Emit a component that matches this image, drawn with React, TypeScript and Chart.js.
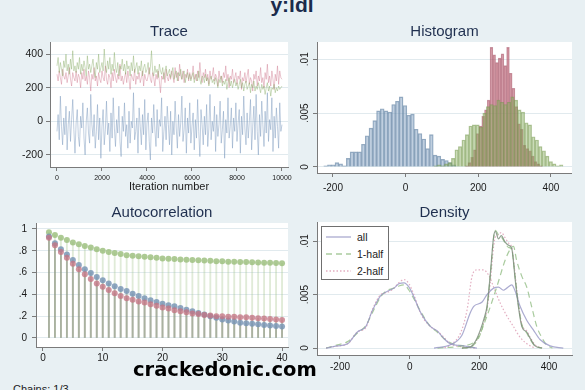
import React, { useEffect, useRef } from 'react';
import { Chart, registerables } from 'chart.js';
Chart.register(...registerables);

const FONT = '"Liberation Sans", Arial, Helvetica, sans-serif';
const PAGE_BG = 'rgb(232,240,243)';
const GRID = '#e1eaee';
const AXIS = '#7a7a7a';
const TICKC = '#1a1a1a';
const TITLEC = '#1f2f4f';

// ---------------- Trace (one value every 50 iterations) ----------------
const traceStep = 50;
const traceBlue = [
  -60, 40, -110, 150, -30, -140, 20, -80, 90, -170, -20, 60, -120, 10, 130, -50, -190, -10, 70, -90,
  -150, 30, -40, 110, -100, -200, 0, 80, -70, -130, 160, -20, -90, 40, -160, -60, 100, -110, 20, -220,
  -30, 70, -140, -50, 120, -80, -10, -180, 50, -100, 140, -40, -150, 10, -70, 90, -120, -210, 30, -60,
  110, -90, -20, -160, 60, -130, 0, -40, 170, -110, -60, 20, -190, 80, -30, -140, 40, -80, 130, -170,
  -10, 50, -120, -230, 20, -70, 100, -50, -150, 70, -100, 10, -30, 140, -180, -60, 30, -110, 90, -20,
  -140, 60, -200, 0, -80, 120, -40, -160, 40, -90, -10, 150, -120, -50, 80, -190, 20, -70, 110, -130,
  -30, 50, -170, 10, -100, 130, -60, -210, 70, -20, -140, 30, -80, 100, -150, -40, 160, -110, 0, -60,
  90, -180, 40, -90, -20, 120, -130, -50, 60, -220, 10, -70, 140, -100, -30, 80, -160, 20, -60, 110,
  -120, -10, 70, -190, 30, -80, 150, -40, -140, 50, -100, 0, 130, -170, -30, 90, -110, 160, -60, -200,
  40, -90, 120, -20, -150, 60, -70, 170, -120, 10, -50, 140, -180, 30, -100, 80, -30, -160, 110, -60,
  -20,
];
const traceRed = [
  280, 240, 300, 260, 220, 310, 270, 250, 290, 230, 270, 320, 250, 210, 290, 260, 240, 300, 230, 280,
  260, 200, 290, 250, 310, 240, 270, 220, 300, 260, 180, 280, 250, 320, 240, 270, 210, 290, 250, 230,
  300, 260, 240, 330, 250, 220, 280, 260, 200, 290, 240, 310, 260, 230, 280, 250, 340, 240, 270, 220,
  260, 290, 230, 300, 250, 190, 280, 260, 240, 310, 220, 270, 250, 290, 230, 260, 300, 210, 280, 250,
  240, 270, 320, 250, 230, 290, 260, 210, 280, 250, 300, 240, 170, 270, 250, 290, 230, 310, 260, 240,
  280, 250, 300, 270, 230, 320, 260, 290, 240, 340, 270, 250, 300, 230, 280, 260, 310, 240, 290, 250,
  270, 330, 250, 280, 240, 300, 260, 350, 270, 230, 290, 260, 310, 240, 280, 220, 300, 250, 270, 320,
  240, 280, 260, 210, 300, 250, 270, 230, 290, 260, 330, 240, 280, 200, 270, 250, 310, 230, 260, 290,
  220, 270, 250, 300, 190, 260, 240, 290, 230, 270, 310, 220, 260, 240, 180, 280, 250, 300, 210, 270,
  240, 320, 230, 260, 200, 290, 250, 340, 230, 270, 210, 300, 250, 190, 280, 240, 330, 220, 300, 260,
  250,
];
const traceGreen = [
  330, 380, 290, 350, 310, 270, 360, 320, 400, 300, 340, 280, 370, 310, 420, 300, 330, 290, 350, 310,
  380, 280, 340, 300, 360, 320, 270, 390, 310, 340, 290, 330, 370, 300, 260, 350, 310, 400, 290, 320,
  350, 300, 430, 330, 290, 360, 310, 380, 280, 340, 300, 410, 320, 290, 350, 270, 330, 310, 370, 300,
  340, 280, 360, 310, 330, 270, 350, 300, 390, 290, 320, 350, 280, 330, 300, 360, 270, 320, 340, 290,
  310, 350, 280, 320, 420, 300, 270, 330, 290, 310, 260, 340, 300, 280, 320, 250, 300, 330, 270, 290,
  310, 260, 290, 320, 250, 280, 300, 240, 290, 270, 310, 250, 280, 300, 230, 270, 290, 250, 280, 240,
  270, 290, 230, 260, 280, 240, 300, 250, 220, 270, 260, 230, 280, 240, 260, 210, 250, 270, 230, 250,
  220, 260, 240, 200, 250, 230, 270, 210, 240, 220, 250, 190, 230, 260, 210, 240, 200, 230, 250, 210,
  230, 190, 220, 250, 200, 230, 180, 220, 240, 190, 210, 230, 170, 220, 200, 240, 180, 210, 190, 230,
  200, 170, 220, 190, 210, 160, 200, 230, 180, 210, 150, 200, 190, 220, 170, 200, 180, 210, 190, 200,
  210,
];
const traceXTicks = [0, 2000, 4000, 6000, 8000, 10000];
const traceYTicks = [-200, 0, 200, 400];

// ---------------- Histogram ----------------
const blueBinWidth = 10.4;
const blueBins = [-220.4, -210, -199.6, -189.2, -178.8, -168.4, -158, -147.6, -137.2, -126.8, -116.4, -106, -95.6, -85.2, -74.8, -64.4, -54, -43.6, -33.2, -22.8, -12.4, -2, 8.4, 18.8, 29.2, 39.6, 50, 60.4, 70.8, 81.2, 91.6, 102, 112.4, 122.8, 133.2];
const blueDens = [0.0001, 0.0002, 0.0002, 0.0004, 0.0003, 0.0001, 0.0008, 0.0014, 0.0014, 0.0014, 0.0021, 0.0029, 0.0036, 0.0043, 0.0052, 0.0054, 0.0052, 0.0051, 0.0058, 0.0061, 0.0065, 0.0057, 0.0048, 0.0049, 0.0035, 0.0031, 0.0026, 0.0017, 0.003, 0.0011, 0.001, 0.0007, 0.0006, 0.0004, 0.0002];
const redBinWidth = 7.6;
const redBins = [167.8, 175.4, 183, 190.6, 198.2, 205.8, 213.4, 221, 228.6, 236.2, 243.8, 251.4, 259, 266.6, 274.2, 281.8, 289.4, 297, 304.6, 312.2, 319.8, 327.4, 335, 342.6, 350.2, 357.8, 365.4, 373];
const redDens = [0.0001, 0.0004, 0.0009, 0.0016, 0.0031, 0.0038, 0.0047, 0.0053, 0.0062, 0.0111, 0.0104, 0.0097, 0.0101, 0.0105, 0.0094, 0.0111, 0.0087, 0.0073, 0.0056, 0.004, 0.0035, 0.002, 0.0017, 0.0015, 0.001, 0.0005, 0.0003, 0.0001];
const greenBinWidth = 9.6;
const greenBins = [82.8, 92.4, 102, 111.6, 121.2, 130.8, 140.4, 150, 159.6, 169.2, 178.8, 188.4, 198, 207.6, 217.2, 226.8, 236.4, 246, 255.6, 265.2, 274.8, 284.4, 294, 303.6, 313.2, 322.8, 332.4, 342, 351.6, 361.2, 370.8, 380.4, 390, 399.6, 409.2, 418.8, 428.4];
const greenDens = [0.0001, 0.0002, 0.0001, 0.0003, 0.0004, 0.0008, 0.0016, 0.0019, 0.0025, 0.003, 0.0038, 0.0039, 0.0039, 0.0037, 0.005, 0.0056, 0.0058, 0.0057, 0.0062, 0.006, 0.0058, 0.006, 0.0065, 0.0062, 0.0053, 0.0051, 0.0041, 0.0039, 0.0028, 0.0025, 0.0019, 0.0015, 0.001, 0.0005, 0.0003, 0.0001, 0.0002];
const histXTicks = [-200, 0, 200, 400];
const densYTicks = [0, 0.005, 0.01];

// ---------------- Autocorrelation ----------------
const lags = [1, 2, 3, 4, 5, 6, 7, 8, 9, 10, 11, 12, 13, 14, 15, 16, 17, 18, 19, 20, 21, 22, 23, 24, 25, 26, 27, 28, 29, 30, 31, 32, 33, 34, 35, 36, 37, 38, 39, 40];
const acfGreen = [0.97, 0.945, 0.92, 0.9, 0.875, 0.86, 0.845, 0.83, 0.815, 0.8, 0.79, 0.78, 0.77, 0.76, 0.755, 0.75, 0.745, 0.74, 0.735, 0.73, 0.728, 0.725, 0.72, 0.718, 0.715, 0.712, 0.71, 0.708, 0.705, 0.703, 0.7, 0.7, 0.698, 0.697, 0.695, 0.693, 0.69, 0.69, 0.687, 0.685];
const acfBlue = [0.93, 0.87, 0.815, 0.765, 0.715, 0.67, 0.63, 0.595, 0.56, 0.53, 0.5, 0.475, 0.45, 0.43, 0.405, 0.385, 0.365, 0.345, 0.33, 0.315, 0.3, 0.29, 0.275, 0.26, 0.245, 0.23, 0.215, 0.2, 0.185, 0.17, 0.16, 0.15, 0.14, 0.135, 0.13, 0.125, 0.12, 0.115, 0.11, 0.105];
const acfRed = [0.92, 0.85, 0.79, 0.735, 0.68, 0.63, 0.585, 0.54, 0.5, 0.47, 0.44, 0.41, 0.385, 0.365, 0.35, 0.335, 0.325, 0.31, 0.295, 0.28, 0.27, 0.255, 0.245, 0.235, 0.225, 0.22, 0.21, 0.205, 0.2, 0.2, 0.195, 0.195, 0.19, 0.19, 0.185, 0.18, 0.178, 0.175, 0.17, 0.165];
const acfXTicks = [0, 10, 20, 30, 40];
const acfYTicks = [0, 0.2, 0.4, 0.6, 0.8, 1];

// ---------------- Density ----------------
const blueCurveX = [-240, -207, -178, -150, -126, -107, -83, -64, -45, -31, -16, -2, 12, 27, 41, 60, 79, 98, 117, 155, 193];
const blueAll = [0, 0.0002, 0.0004, 0.0015, 0.002, 0.0035, 0.0049, 0.0053, 0.0056, 0.006, 0.0061, 0.0057, 0.0048, 0.0036, 0.0028, 0.002, 0.0016, 0.0009, 0.0004, 0.0002, 0];
const blueHalf1 = [0, 0.0003, 0.0006, 0.0014, 0.0021, 0.0033, 0.0048, 0.0054, 0.0056, 0.0058, 0.0059, 0.0054, 0.0046, 0.0037, 0.0029, 0.002, 0.0015, 0.0009, 0.0005, 0.0002, 0];
const blueHalf2 = [0, 0.0002, 0.0004, 0.0015, 0.0019, 0.0036, 0.005, 0.0052, 0.0056, 0.0061, 0.0064, 0.006, 0.005, 0.0036, 0.0027, 0.002, 0.0016, 0.001, 0.0004, 0.0001, 0];
const redCurveX = [150, 174, 190, 203, 213, 222, 231, 241, 246, 255, 263, 274, 284, 293, 303, 312, 322, 336, 346, 360, 380];
const redAll = [0, 0.0001, 0.0007, 0.0017, 0.0027, 0.0039, 0.0067, 0.0104, 0.0109, 0.0102, 0.0105, 0.0099, 0.0096, 0.0093, 0.0064, 0.0039, 0.002, 0.0015, 0.0009, 0.0002, 0];
const redHalf1 = [0, 0.0001, 0.0005, 0.0013, 0.0024, 0.0037, 0.0066, 0.0103, 0.011, 0.0106, 0.0104, 0.0098, 0.0094, 0.0092, 0.0066, 0.0041, 0.0022, 0.0014, 0.0008, 0.0002, 0];
const redHalf2 = [0, 0.0001, 0.0006, 0.0015, 0.0025, 0.0036, 0.006, 0.0095, 0.0104, 0.0106, 0.0108, 0.0103, 0.0098, 0.0094, 0.0068, 0.0042, 0.0022, 0.0016, 0.001, 0.0003, 0];
const greenAllX = [70, 117, 150, 174, 184, 208, 222, 241, 255, 269, 279, 293, 303, 317, 336, 355, 374, 403, 441];
const greenAll = [0, 0.0003, 0.0012, 0.0033, 0.0039, 0.0043, 0.005, 0.0056, 0.0057, 0.0054, 0.0056, 0.0059, 0.0053, 0.0039, 0.0026, 0.0017, 0.0008, 0.0002, 0];
const greenHalf1X = [80, 150, 193, 222, 250, 274, 288, 298, 307, 322, 336, 350, 365, 379, 393, 410];
const greenHalf1 = [0, 0.0002, 0.0008, 0.003, 0.0057, 0.0082, 0.0092, 0.0095, 0.0082, 0.0067, 0.0057, 0.0039, 0.002, 0.001, 0.0003, 0];
const greenHalf2X = [100, 117, 146, 165, 179, 193, 212, 227, 241, 260, 279, 298, 317, 341, 360];
const greenHalf2 = [0, 0.0003, 0.0014, 0.0036, 0.0067, 0.0073, 0.0073, 0.0068, 0.0057, 0.0042, 0.003, 0.002, 0.001, 0.0003, 0];
const legendLabels = ['all', '1-half', '2-half'];

// ---------------- helpers ----------------
const pts = (xs: number[], ys: number[]) => ys.map((y, i) => ({ x: xs[i], y }));
const stataFmt = (v: number) => {
  const s = String(+Number(v).toFixed(6));
  return s.replace(/^0\./, '.').replace(/^-0\./, '-.');
};

type Geo = { L: number; T: number; R: number; B: number; yW: number; xH: number; padT: number; padR: number };

const plotBg = {
  id: 'plotBg',
  beforeDraw(chart: any) {
    const { ctx, chartArea: a } = chart;
    ctx.save();
    ctx.fillStyle = '#ffffff';
    ctx.fillRect(a.left, a.top, a.right - a.left, a.bottom - a.top);
    ctx.restore();
  },
};

const rotatedY = (cx: number, size: number) => ({
  id: 'rotY',
  afterDraw(chart: any) {
    const s = chart.scales.y;
    const ctx = chart.ctx;
    ctx.save();
    ctx.font = `${size}px ${FONT}`;
    ctx.fillStyle = TICKC;
    ctx.textAlign = 'center';
    ctx.textBaseline = 'middle';
    s.ticks.forEach((t: any) => {
      const y = s.getPixelForValue(t.value);
      ctx.save();
      ctx.translate(cx, y);
      ctx.rotate(-Math.PI / 2);
      ctx.fillText(stataFmt(t.value), 0, 0);
      ctx.restore();
    });
    ctx.restore();
  },
});

function xAxis(min: number, max: number, ticks: number[], xH: number, size: number, pad: number) {
  return {
    type: 'linear',
    min,
    max,
    offset: false,
    afterBuildTicks: (s: any) => { s.ticks = ticks.map((v) => ({ value: v })); },
    afterFit: (s: any) => { s.height = xH; },
    grid: { offset: false, drawOnChartArea: false, drawTicks: true, tickLength: 4, tickColor: AXIS },
    border: { display: true, color: AXIS, width: 1 },
    ticks: {
      autoSkip: false, maxRotation: 0, minRotation: 0, padding: pad, color: TICKC,
      font: { size, family: FONT, lineHeight: 1 },
      callback: (v: any) => stataFmt(v),
    },
  };
}
function yAxis(min: number, max: number, ticks: number[], yW: number, size: number, pad: number, show: boolean) {
  return {
    type: 'linear',
    min,
    max,
    afterBuildTicks: (s: any) => { s.ticks = ticks.map((v) => ({ value: v })); },
    afterFit: (s: any) => { s.width = yW; },
    grid: { color: GRID, lineWidth: 1, drawTicks: true, tickLength: 4, tickColor: AXIS },
    border: { display: true, color: AXIS, width: 1 },
    ticks: {
      display: show, padding: pad, color: TICKC,
      font: { size, family: FONT, lineHeight: 1 },
      callback: (v: any) => stataFmt(v),
    },
  };
}
function baseOptions(geo: Geo, scales: any) {
  return {
    responsive: false,
    animation: false,
    devicePixelRatio: 1,
    events: [],
    layout: { padding: { top: geo.padT, right: geo.padR, left: 0, bottom: 0 } },
    plugins: { legend: { display: false }, tooltip: { enabled: false }, title: { display: false } },
    scales,
  };
}

function ChartBox({ geo, make }: { geo: Geo; make: () => any }) {
  const ref = useRef<HTMLCanvasElement>(null);
  useEffect(() => {
    const chart = new Chart(ref.current as HTMLCanvasElement, make());
    return () => chart.destroy();
  }, []);
  const left = geo.L - geo.yW;
  const top = geo.T - geo.padT;
  const width = geo.yW + (geo.R - geo.L) + geo.padR;
  const height = geo.padT + (geo.B - geo.T) + geo.xH;
  return (
    <canvas ref={ref} width={width} height={height}
      style={{ position: 'absolute', left, top, width, height, display: 'block' }} />
  );
}

function Txt(props: { x: number; y: number; size: number; text: string; bold?: boolean; color?: string; center?: boolean; family?: string }) {
  const { x, y, size, text, bold, color, center, family } = props;
  return (
    <div style={{
      position: 'absolute', left: x, top: y - 0.85 * size, fontSize: size, lineHeight: `${size}px`,
      fontFamily: family || FONT, fontWeight: bold ? 700 : 400, color: color || TICKC, whiteSpace: 'nowrap',
      transform: center ? 'translateX(-50%)' : undefined, zIndex: 5,
    }}>{text}</div>
  );
}

// ---------------- panels ----------------
const traceGeo: Geo = { L: 50, T: 42, R: 288, B: 167, yW: 30, xH: 26, padT: 10, padR: 14 };
const histGeo: Geo = { L: 317, T: 42, R: 572, B: 173, yW: 22, xH: 26, padT: 10, padR: 0 };
const acfGeo: Geo = { L: 36, T: 223, R: 288, B: 347, yW: 26, xH: 22, padT: 10, padR: 14 };
const densGeo: Geo = { L: 317, T: 222, R: 572, B: 355, yW: 22, xH: 24, padT: 10, padR: 12 };

const traceIter = traceBlue.map((_, i) => Math.min(i * traceStep, 10000));

const makeTrace = () => ({
  type: 'line',
  data: {
    datasets: [
      { data: pts(traceIter, traceRed), borderColor: 'rgba(205,120,140,0.42)', borderWidth: 1, pointRadius: 0, order: 2 },
      { data: pts(traceIter, traceGreen), borderColor: 'rgba(135,172,102,0.42)', borderWidth: 1, pointRadius: 0, order: 1 },
      { data: pts(traceIter, traceBlue), borderColor: 'rgba(125,155,190,0.48)', borderWidth: 1, pointRadius: 0, order: 3 },
    ],
  },
  options: baseOptions(traceGeo, {
    x: xAxis(-311, 10267, traceXTicks, traceGeo.xH, 7, 3.5),
    y: yAxis(-272, 472, traceYTicks, traceGeo.yW, 10.5, 3, true),
  }),
  plugins: [plotBg],
});

const HIST_MIN = -244;
const HIST_MAX = 458;
const histPx = (histGeo.R - histGeo.L) / (HIST_MAX - HIST_MIN);

const barDs = (xs: number[], ys: number[], binW: number, fill: string, edge: string, order: number) => ({
  type: 'bar', data: pts(xs, ys), backgroundColor: fill, borderColor: edge,
  borderWidth: 0.7, borderSkipped: 'bottom', barThickness: binW * histPx, grouped: false, order,
});

const makeHist = () => ({
  type: 'bar',
  data: {
    datasets: [
      barDs(blueBins, blueDens, blueBinWidth, 'rgba(130,160,192,0.5)', 'rgba(100,130,162,0.65)', 3),
      barDs(redBins, redDens, redBinWidth, 'rgba(185,88,108,0.52)', 'rgba(160,76,96,0.55)', 2),
      barDs(greenBins, greenDens, greenBinWidth, 'rgba(140,176,100,0.45)', 'rgba(116,152,78,0.55)', 1),
    ],
  },
  options: baseOptions(histGeo, {
    x: xAxis(HIST_MIN, HIST_MAX, histXTicks, histGeo.xH, 10, 6.5),
    y: yAxis(-0.00056, 0.0116, densYTicks, histGeo.yW, 10, 3, false),
  }),
  plugins: [plotBg, rotatedY(305.5 - (histGeo.L - histGeo.yW), 10)],
});

const stem = (ys: number[], color: string) => ({
  type: 'bar', data: pts(lags, ys), backgroundColor: color, barThickness: 1.2, grouped: false, order: 5,
});
const dots = (ys: number[], color: string, order: number) => ({
  type: 'scatter', data: pts(lags, ys), backgroundColor: color, borderWidth: 0, pointRadius: 3, order,
});

const makeAcf = () => ({
  type: 'bar',
  data: {
    datasets: [
      dots(acfRed, 'rgba(196,116,132,0.78)', 1),
      dots(acfBlue, 'rgba(118,148,180,0.82)', 2),
      dots(acfGreen, 'rgba(155,190,125,0.82)', 3),
      stem(acfGreen, 'rgba(160,192,135,0.32)'),
      stem(acfBlue, 'rgba(110,120,130,0.38)'),
      stem(acfRed, 'rgba(150,115,110,0.38)'),
    ],
  },
  options: baseOptions(acfGeo, {
    x: xAxis(-1.17, 41, acfXTicks, acfGeo.xH, 10, 2.5),
    y: yAxis(-0.083, 1.055, acfYTicks, acfGeo.yW, 10, 5, true),
  }),
  plugins: [plotBg],
});

const ALL_C = 'rgba(150,150,196,0.8)';
const H1_C = 'rgba(140,186,126,0.75)';
const H2_C = 'rgba(222,160,182,0.85)';
const curve = (xs: number[], ys: number[], color: string, dash: number[]) => ({
  data: pts(xs, ys), borderColor: color, borderWidth: 1.2, borderDash: dash, pointRadius: 0,
  cubicInterpolationMode: 'monotone', fill: false,
});

const makeDens = () => ({
  type: 'line',
  data: {
    datasets: [
      curve(redCurveX, redAll, 'rgba(120,140,120,0.8)', []),
      curve(blueCurveX, blueAll, ALL_C, []),
      curve(greenAllX, greenAll, ALL_C, []),
      curve(blueCurveX, blueHalf1, H1_C, [6, 4]),
      curve(redCurveX, redHalf1, H1_C, [6, 4]),
      curve(greenHalf1X, greenHalf1, H1_C, [6, 4]),
      curve(blueCurveX, blueHalf2, H2_C, [1.5, 2]),
      curve(redCurveX, redHalf2, H2_C, [1.5, 2]),
      curve(greenHalf2X, greenHalf2, H2_C, [1.5, 2]),
    ],
  },
  options: baseOptions(densGeo, {
    x: xAxis(-266, 466, histXTicks, densGeo.xH, 10, 3.5),
    y: yAxis(-0.00065, 0.01178, densYTicks, densGeo.yW, 10, 3, false),
  }),
  plugins: [plotBg, rotatedY(305.3 - (densGeo.L - densGeo.yW), 10)],
});

function DensLegend() {
  const rows = [
    { c: ALL_C, dash: '' },
    { c: H1_C, dash: '6 4' },
    { c: H2_C, dash: '1.5 2' },
  ];
  return (
    <div style={{ position: 'absolute', left: 321, top: 226, width: 68, height: 54, boxSizing: 'border-box', border: '1px solid #6f6f6f', background: '#fff', zIndex: 4 }}>
      {rows.map((r, i) => (
        <React.Fragment key={i}>
          <svg width={26} height={6} style={{ position: 'absolute', left: 4, top: 10 + i * 17 - 3 }}>
            <line x1={0} y1={3} x2={25} y2={3} stroke={r.c} strokeWidth={1.3} strokeDasharray={r.dash || undefined} />
          </svg>
          <div style={{ position: 'absolute', left: 35, top: 10 + i * 17 - 6, fontSize: 10.5, lineHeight: '12px', fontFamily: FONT, color: TICKC, whiteSpace: 'nowrap' }}>
            {legendLabels[i]}
          </div>
        </React.Fragment>
      ))}
    </div>
  );
}

export default function App() {
  return (
    <div style={{ position: 'fixed', left: 0, top: 0, width: 585, height: 390, overflow: 'hidden', background: PAGE_BG }}>
      <ChartBox geo={traceGeo} make={makeTrace} />
      <ChartBox geo={histGeo} make={makeHist} />
      <ChartBox geo={acfGeo} make={makeAcf} />
      <ChartBox geo={densGeo} make={makeDens} />
      <DensLegend />
      <Txt x={292} y={12.3} size={21} text="y:ldl" bold center color="#1a2b4c" />
      <Txt x={169} y={36} size={15} text="Trace" center color={TITLEC} />
      <Txt x={444.5} y={36} size={15} text="Histogram" center color={TITLEC} />
      <Txt x={162} y={216.7} size={15} text="Autocorrelation" center color={TITLEC} />
      <Txt x={444.5} y={216.7} size={15} text="Density" center color={TITLEC} />
      <Txt x={169} y={190} size={11} text="Iteration number" center color={TICKC} />
      <Txt x={13} y={393} size={11} text="Chains: 1/3" color={TICKC} />
      <Txt x={133} y={377} size={19.5} text="crackedonic.com" bold color="#000" family='"DejaVu Sans", Verdana, sans-serif' />
    </div>
  );
}
